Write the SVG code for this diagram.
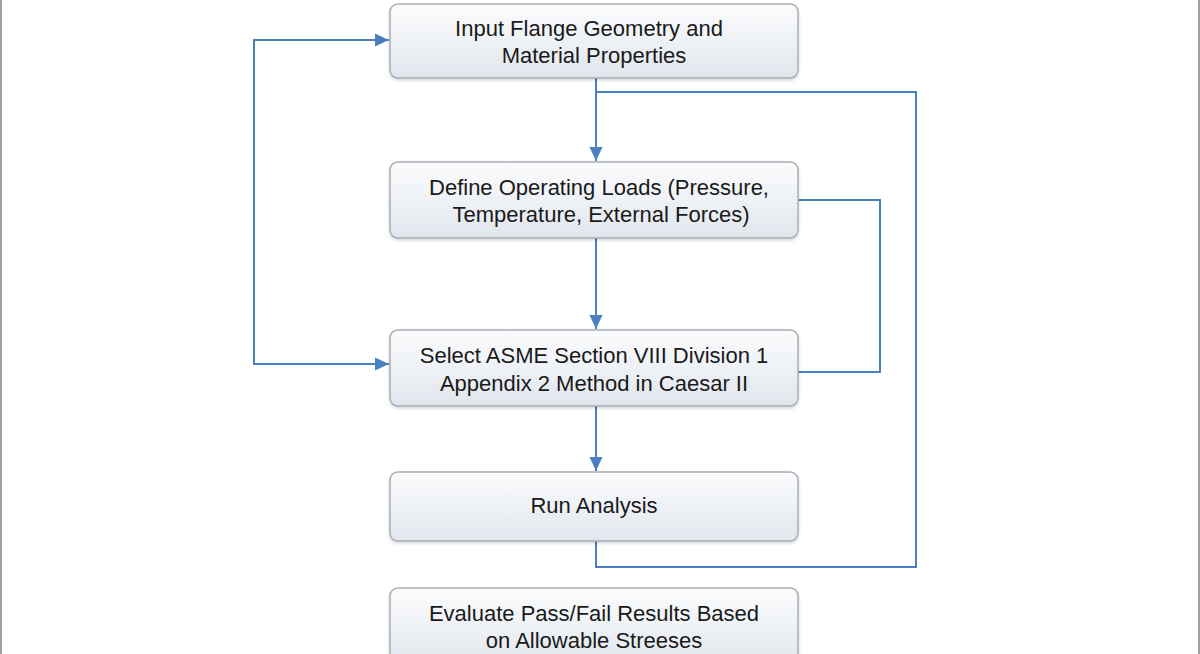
<svg xmlns="http://www.w3.org/2000/svg" width="1200" height="654" viewBox="0 0 1200 654">
<defs>
<linearGradient id="g" x1="0" y1="0" x2="0" y2="1">
<stop offset="0" stop-color="#fbfcfd"/>
<stop offset="1" stop-color="#e1e6ed"/>
</linearGradient>
<filter id="sh" x="-5%" y="-10%" width="110%" height="130%">
<feDropShadow dx="0" dy="1.5" stdDeviation="1.5" flood-color="#000" flood-opacity="0.18"/>
</filter>
<marker id="ah" viewBox="0 0 14 14" refX="14" refY="7" markerWidth="14" markerHeight="14" markerUnits="userSpaceOnUse" orient="auto">
<path d="M0,0.5 L14,7 L0,13.5 Z" fill="#4a7fc0"/>
</marker>
<style>
.box{fill:url(#g);stroke:#a9aeb5;stroke-width:1.5;filter:url(#sh)}
.t{font-family:"Liberation Sans",Arial,sans-serif;font-size:22px;fill:#1a1a1a;text-anchor:middle}
.c{fill:none;stroke:#4a7fc0;stroke-width:2}
</style>
</defs>
<rect x="0" y="0" width="1200" height="654" fill="#ffffff"/>
<line x1="1" y1="0" x2="1" y2="654" stroke="#a0a0a0" stroke-width="2"/>
<line x1="1199" y1="0" x2="1199" y2="654" stroke="#a0a0a0" stroke-width="2"/>
<g id="connectors">
<path class="c" d="M596,78 V161" marker-end="url(#ah)"/>
<path class="c" d="M596,92 H916 V567 H596 V541"/>
<path class="c" d="M798,200 H880 V372 H798"/>
<path class="c" d="M596,238 V329" marker-end="url(#ah)"/>
<path class="c" d="M596,406 V471" marker-end="url(#ah)"/>
<path class="c" d="M389,364 H254 V40 H389" marker-end="url(#ah)"/>
<path class="c" d="M300,364 H389" marker-end="url(#ah)"/>
</g>
<g id="n1">
<rect class="box" x="390" y="4" width="408" height="74" rx="8"/>
<text class="t" x="589" y="36">Input Flange Geometry and</text>
<text class="t" x="594" y="63">Material Properties</text>
</g>
<g id="n2">
<rect class="box" x="390" y="162" width="408" height="76" rx="8"/>
<text class="t" x="599" y="195">Define Operating Loads (Pressure,</text>
<text class="t" x="601" y="222">Temperature, External Forces)</text>
</g>
<g id="n3">
<rect class="box" x="390" y="330" width="408" height="76" rx="8"/>
<text class="t" x="594" y="363">Select ASME Section VIII Division 1</text>
<text class="t" x="594" y="391">Appendix 2 Method in Caesar II</text>
</g>
<g id="n4">
<rect class="box" x="390" y="472" width="408" height="69" rx="8"/>
<text class="t" x="594" y="513">Run Analysis</text>
</g>
<g id="n5">
<rect class="box" x="390" y="588" width="408" height="80" rx="8"/>
<text class="t" x="594" y="621">Evaluate Pass/Fail Results Based</text>
<text class="t" x="594" y="648">on Allowable Streeses</text>
</g>
</svg>
